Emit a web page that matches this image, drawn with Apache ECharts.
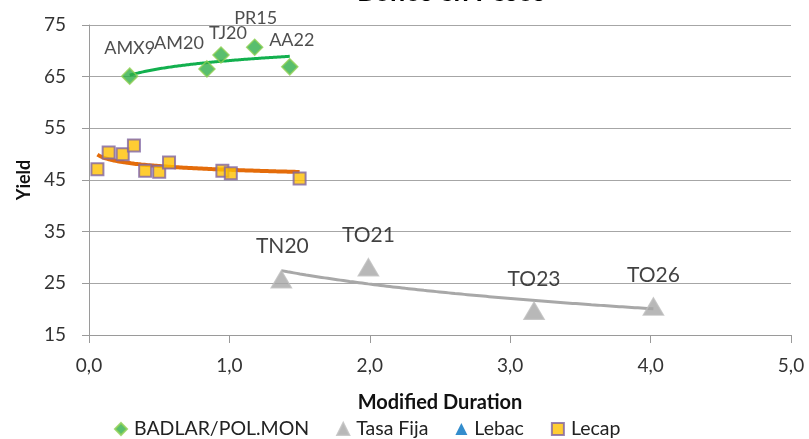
<!DOCTYPE html>
<html>
<head>
<meta charset="utf-8">
<script src="https://cdn.jsdelivr.net/npm/echarts@6/dist/echarts.min.js"></script>
<style>
html,body{margin:0;padding:0;background:#fff;}
#chart{width:809px;height:439px;}
</style>
</head>
<body>
<div id="chart"></div>
<script>
// ---- data ----
var badlarNames = ['AMX9', 'AM20', 'TJ20', 'PR15', 'AA22'];
var badlarDur   = [0.29, 0.84, 0.94, 1.18, 1.43];
var badlarYield = [65.1, 66.5, 69.2, 70.7, 66.9];

var fijaNames = ['TN20', 'TO21', 'TO23', 'TO26'];
var fijaDur   = [1.37, 1.99, 3.17, 4.02];
var fijaYield = [25.8, 28.1, 19.7, 20.5];

var lebacDur = [];
var lebacYield = [];

var lecapDur   = [0.06, 0.14, 0.24, 0.32, 0.40, 0.50, 0.57, 0.95, 1.01, 1.50];
var lecapYield = [47.1, 50.3, 50.0, 51.7, 46.8, 46.6, 48.4, 46.8, 46.3, 45.3];

var xTicks = [0, 1, 2, 3, 4, 5];
var yTicks = [15, 25, 35, 45, 55, 65, 75];

// label placement (style only)
var badlarLabelOffsets = [[0, -28], [-28, -26], [7, -22], [1, -29], [2, -27]];
var fijaLabelOffsets = [[1, -33], [0, -32], [0, -31], [0, -31]];

var FONT = 'Lato';

function pairs(xs, ys) {
  return xs.map(function (x, i) { return [x, ys[i]]; });
}
// logarithmic least-squares trendline (as the spreadsheet does)
function logTrend(xs, ys) {
  var n = xs.length, lx = xs.map(Math.log);
  var mx = lx.reduce(function (a, b) { return a + b; }, 0) / n;
  var my = ys.reduce(function (a, b) { return a + b; }, 0) / n;
  var sxy = 0, sxx = 0;
  for (var i = 0; i < n; i++) { sxy += (lx[i] - mx) * (ys[i] - my); sxx += (lx[i] - mx) * (lx[i] - mx); }
  var b = sxy / sxx, a = my - b * mx;
  var x0 = Math.min.apply(null, xs), x1 = Math.max.apply(null, xs);
  var out = [];
  for (var k = 0; k <= 60; k++) {
    var x = x0 + (x1 - x0) * k / 60;
    out.push([x, a + b * Math.log(x)]);
  }
  return out;
}

function labeled(xs, ys, names, offsets) {
  return xs.map(function (x, i) {
    return {
      value: [x, ys[i]],
      name: names[i],
      label: { show: true, position: 'inside', offset: offsets[i], formatter: names[i] }
    };
  });
}

var chart = echarts.init(document.getElementById('chart'), null, { renderer: 'canvas' });
chart.setOption({
  animation: false,
  backgroundColor: '#ffffff',
  textStyle: { fontFamily: FONT },
  title: {
    text: 'Bonos en Pesos',
    left: 446, textAlign: 'center', top: -26,
    textStyle: { fontFamily: FONT, fontSize: 27, fontWeight: 'bold', color: '#000' }
  },
  grid: { left: 89, right: 18, top: 25, bottom: 104 },
  legend: {
    left: 109, top: 414,
    itemWidth: 12, itemHeight: 12, itemGap: 27,
    textStyle: { fontFamily: FONT, fontSize: 19.5, color: '#222', padding: [0, 0, 0, 2] },
    data: [
      { name: 'BADLAR/POL.MON', icon: 'diamond' },
      { name: 'Tasa Fija', icon: 'triangle' },
      { name: 'Lebac', icon: 'triangle' },
      { name: 'Lecap', icon: 'rect' }
    ]
  },
  xAxis: {
    type: 'value', min: xTicks[0], max: xTicks[xTicks.length - 1], interval: 1,
    name: 'Modified Duration', nameLocation: 'middle', nameGap: 58,
    nameTextStyle: { fontFamily: FONT, fontSize: 20, fontWeight: 'bold', color: '#111' },
    axisLine: { show: true, lineStyle: { color: '#9a9a9a', width: 1 } },
    axisTick: { show: true, length: 8, inside: false, lineStyle: { color: '#9a9a9a' } },
    splitLine: { show: false },
    axisLabel: { fontFamily: FONT, fontSize: 19, color: '#333', margin: 21,
      formatter: function (v) { return v.toFixed(1).replace('.', ','); } }
  },
  yAxis: {
    type: 'value', min: yTicks[0], max: yTicks[yTicks.length - 1], interval: 10,
    name: 'Yield', nameLocation: 'middle', nameGap: 53, nameRotate: 90,
    nameTextStyle: { fontFamily: FONT, fontSize: 18, fontWeight: 'bold', color: '#111' },
    axisLine: { show: true, lineStyle: { color: '#9a9a9a', width: 1 } },
    axisTick: { show: true, length: 7, lineStyle: { color: '#9a9a9a' } },
    splitLine: { show: true, lineStyle: { color: '#a6a6a6', width: 1 } },
    axisLabel: { fontFamily: FONT, fontSize: 19, color: '#333', margin: 23 }
  },
  series: [
    {
      name: 'trend-badlar', type: 'line', data: logTrend(badlarDur, badlarYield),
      showSymbol: false, symbol: 'none', smooth: true, silent: true,
      lineStyle: { color: '#12b04e', width: 3 }, z: 2
    },
    {
      name: 'trend-fija', type: 'line', data: logTrend(fijaDur, fijaYield),
      showSymbol: false, symbol: 'none', smooth: true, silent: true,
      lineStyle: { color: '#a8a8a8', width: 3 }, z: 2
    },
    {
      name: 'trend-lecap', type: 'line', data: logTrend(lecapDur, lecapYield),
      showSymbol: false, symbol: 'none', smooth: true, silent: true,
      lineStyle: { color: '#e46c0a', width: 4 }, z: 2
    },
    {
      name: 'BADLAR/POL.MON', type: 'scatter', symbol: 'diamond', symbolSize: 16,
      data: labeled(badlarDur, badlarYield, badlarNames, badlarLabelOffsets),
      itemStyle: { color: '#2fae4a', borderColor: '#8fd052', borderWidth: 1.5 },
      label: { fontFamily: FONT, fontSize: 18, color: '#222' },
      z: 3
    },
    {
      name: 'Tasa Fija', type: 'scatter', symbol: 'triangle', symbolSize: [20, 17],
      data: labeled(fijaDur, fijaYield, fijaNames, fijaLabelOffsets),
      itemStyle: { color: '#a6a6a6', borderColor: '#bdbdbd', borderWidth: 1.5 },
      label: { fontFamily: FONT, fontSize: 21, color: '#111' },
      z: 3
    },
    {
      name: 'Lebac', type: 'scatter', symbol: 'triangle', symbolSize: 16,
      data: pairs(lebacDur, lebacYield),
      itemStyle: { color: '#0070c0' }, z: 3
    },
    {
      name: 'Lecap', type: 'scatter', symbol: 'rect', symbolSize: 12,
      data: pairs(lecapDur, lecapYield),
      itemStyle: { color: '#ffc000', borderColor: '#8064a2', borderWidth: 2 },
      z: 3
    }
  ]
});
</script>
</body>
</html>
